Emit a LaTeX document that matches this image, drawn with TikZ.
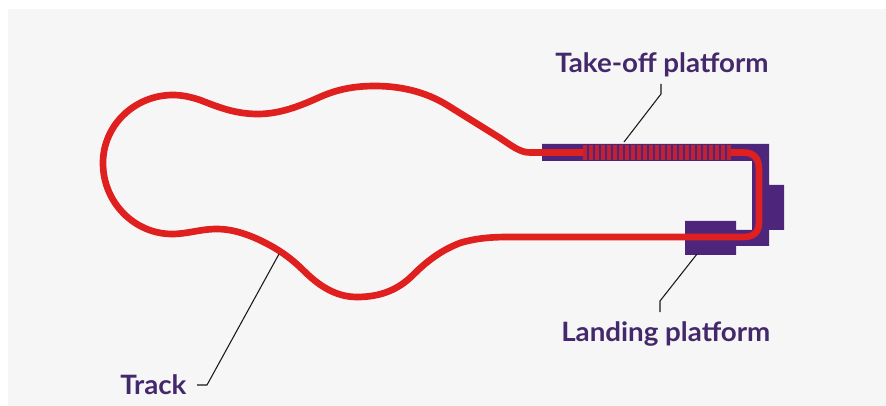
\documentclass[tikz,border=0pt]{standalone}
\usepackage{fontspec}
\setmainfont[FakeStretch=1.04]{Lato}
\definecolor{panelgrey}{HTML}{F6F6F6}
\definecolor{platpurple}{HTML}{4D267B}
\definecolor{trackred}{HTML}{E0201F}
\definecolor{labelpurple}{HTML}{43286B}
\tikzset{
  plat/.style = {fill=platpurple, draw=none},
  track/.style = {draw=trackred, line width=5pt},
  leader/.style = {draw=black!90, line width=0.8pt},
  lbl/.style = {text=labelpurple, font=\fontsize{20}{20}\selectfont\bfseries, inner sep=0pt}
}
\begin{document}
\begin{tikzpicture}[x=0.75pt, y=-0.75pt]
    \useasboundingbox (0,0) rectangle (886,406);
    % Panel
    \fill[panelgrey] (8,9) rectangle (886,406);
    % Platform
    \fill[plat] (542,144) -- (769,144) -- (769,185) -- (784,185) -- (784,230) -- (769,230) -- (769,246)
        -- (736,246) -- (736,255) -- (685,255) -- (685,221) -- (736,221) -- (736,230) -- (752,230)
        -- (752,161) -- (542,161) -- cycle;
    % Track
    \draw[track] (583,152.5) -- (530,152.5) .. controls (520,152.5) and (512,146) .. (500,138)
        -- (447,105) .. controls (425,91.5) and (400,86) .. (375,86)
        .. controls (355,86) and (338,89) .. (320,97)
        .. controls (300,106) and (280,114) .. (258,114)
        .. controls (235,114) and (218,107) .. (200,100)
        .. controls (191,97) and (182,95) .. (173,95)
        .. controls (135,95) and (103,125) .. (103,163)
        .. controls (103,203) and (135,234) .. (172,234)
        .. controls (188,234) and (200,229) .. (217,229)
        .. controls (238,229) and (260,239) .. (278,250)
        .. controls (286,255) and (295,262) .. (303,270)
        .. controls (318,285) and (335,297) .. (357,297)
        .. controls (380,297) and (398,290) .. (413,275)
        .. controls (428,260) and (442,250) .. (460,243)
        .. controls (478,237.5) and (495,237) .. (510,237)
        -- (743,237) .. controls (754,237) and (759,232) .. (759,222)
        -- (759,170) .. controls (759,158) and (754,152.5) .. (743,152.5)
        -- (731,152.5);
    % Stripes
    \foreach \sx in {583,589,...,727}
        \fill[trackred, opacity=0.8] (\sx,145) rectangle (\sx+3.5,160.5);
    % Labels
    \node[lbl, anchor=base west] (takeoff) at (555,73) {Take-off platform};
    \node[lbl, anchor=base west] (landing) at (561,341) {Landing platform};
    \node[lbl, anchor=base west] (tracklbl) at (120,394) {Track};
    % Leaders
    \coordinate (takeoffa) at (661,84);
    \coordinate (takeoffb) at (661,94);
    \coordinate (takeoffc) at (624,142);
    \coordinate (landinga) at (660,312);
    \coordinate (landingb) at (660,301);
    \coordinate (landingc) at (697,254);
    \coordinate (tracka) at (197,385);
    \coordinate (trackb) at (207,385);
    \coordinate (trackc) at (279,254);
    \draw[leader] (takeoffa) -- (takeoffb) -- (takeoffc);
    \draw[leader] (landinga) -- (landingb) -- (landingc);
    \draw[leader] (tracka) -- (trackb) -- (trackc);
\end{tikzpicture}
\end{document}
